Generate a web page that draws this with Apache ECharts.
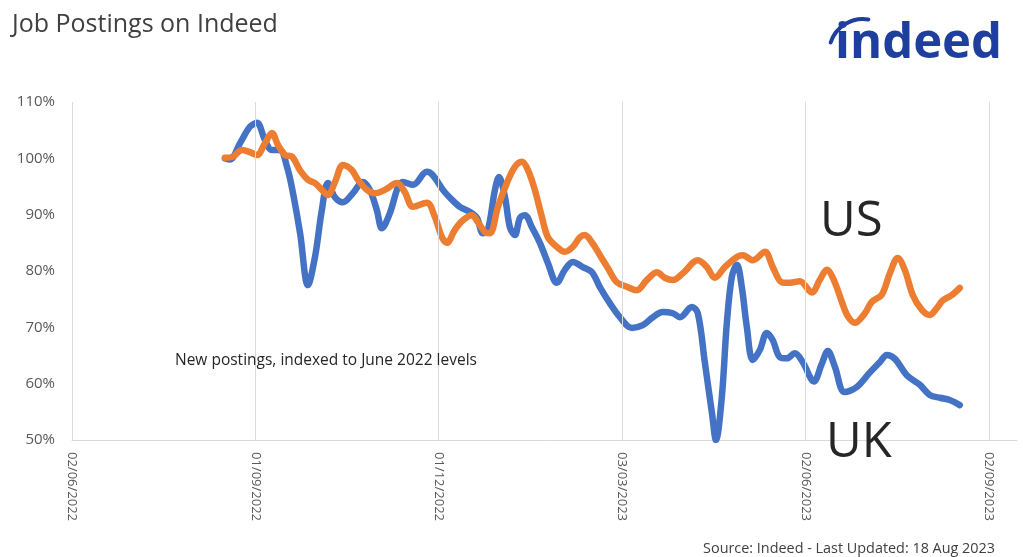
<!DOCTYPE html>
<html>
<head>
<meta charset="utf-8">
<script src="https://cdn.jsdelivr.net/npm/echarts@6/dist/echarts.min.js"></script>
<style>
  html, body { margin: 0; padding: 0; background: #ffffff; }
  #chart { width: 1023px; height: 557px; }
</style>
</head>
<body>
<div id="chart"></div>
<script>
// x values are days since 2 Jun 2022
const xTickDays = [0, 91, 182, 273, 364, 455];
const xTickLabels = ['02/06/2022', '01/09/2022', '01/12/2022', '03/03/2023', '02/06/2023', '02/09/2023'];
const yTicks = [50, 60, 70, 80, 90, 100, 110];

const ukDays = [75.9, 78.4, 83.4, 88.3, 91.8, 95.7, 99.2, 103.2, 106.7, 109.7, 113.2, 117.1, 120.6, 124.0, 127.0, 130.5,
  134.4, 139.4, 144.3, 147.8, 151.3, 153.8, 157.8, 161.8, 164.2, 169.2, 176.1, 179.1, 184.1, 187.6, 192.5, 197.5,
  201.0, 203.9, 206.4, 209.9, 211.9, 214.9, 217.3, 219.8, 222.3, 224.8, 228.2, 232.2, 236.2, 240.6, 244.6, 248.6,
  253.5, 258.0, 261.9, 266.9, 271.9, 277.9, 283.3, 288.3, 293.2, 298.2, 301.7, 307.6, 310.6, 314.1, 317.6, 319.6,
  322.5, 325.0, 327.5, 330.0, 332.4, 334.9, 337.9, 341.4, 344.8, 347.8, 351.3, 354.8, 358.7, 362.7, 368.2, 372.1,
  375.1, 378.6, 383.5, 389.5, 396.0, 400.9, 404.4, 408.4, 414.3, 420.8, 425.7, 430.7, 435.6, 440.6];
const ukValues = [100.0, 99.8, 102.7, 105.6, 106.3, 103.3, 101.5, 101.5, 98.5, 93.8, 86.7, 77.5, 82.5, 90.8, 95.6, 93.1,
  92.2, 93.8, 95.8, 94.4, 90.8, 87.6, 90.3, 94.9, 95.8, 95.3, 97.6, 97.0, 94.4, 93.0, 91.4, 90.5,
  89.4, 86.7, 87.3, 94.4, 96.7, 93.1, 87.8, 86.4, 89.4, 89.9, 87.8, 85.0, 81.4, 77.9, 80.2, 81.6,
  80.7, 79.8, 77.2, 74.3, 71.8, 69.9, 70.4, 71.8, 72.7, 72.5, 71.8, 73.6, 72.5, 63.7, 54.8, 50.0,
  57.6, 70.8, 79.0, 81.1, 77.2, 70.1, 64.2, 66.0, 69.0, 67.7, 64.7, 64.5, 65.4, 63.8, 60.4, 63.5,
  65.8, 63.0, 58.5, 59.4, 62.0, 63.8, 65.1, 64.4, 61.5, 59.8, 58.0, 57.5, 57.1, 56.2];

const usDays = [75.9, 79.9, 84.4, 88.3, 91.8, 95.8, 99.2, 102.2, 105.7, 109.2, 113.1, 117.1, 120.6, 124.0, 127.0, 130.5,
  134.5, 138.9, 141.9, 146.4, 150.3, 155.3, 161.3, 165.2, 169.2, 176.1, 180.1, 183.6, 186.1, 190.0, 194.0, 198.5,
  201.4, 204.9, 207.4, 211.4, 215.8, 219.8, 223.3, 226.3, 229.7, 233.2, 236.2, 240.6, 244.6, 248.6, 252.1, 254.5,
  258.0, 262.0, 266.0, 270.4, 275.4, 280.3, 285.3, 290.3, 294.2, 298.2, 303.2, 310.6, 315.1, 319.0, 324.0, 330.0,
  332.9, 337.9, 343.9, 347.8, 352.3, 356.3, 361.2, 367.2, 371.1, 374.6, 378.1, 382.1, 385.0, 388.5, 393.5, 396.9,
  401.9, 405.9, 409.8, 413.3, 417.3, 421.8, 425.7, 429.2, 432.2, 436.6, 440.6];
const usValues = [100.1, 100.3, 101.5, 101.1, 100.6, 102.7, 104.5, 102.4, 100.6, 100.3, 97.9, 96.2, 95.6, 94.4, 93.5, 95.8,
  98.8, 97.9, 96.2, 94.4, 93.8, 94.4, 95.6, 94.0, 91.4, 92.1, 89.6, 86.0, 85.0, 87.3, 89.0, 89.9,
  88.7, 86.9, 86.7, 91.4, 95.6, 98.5, 99.4, 97.9, 94.4, 89.6, 86.0, 84.3, 83.4, 84.3, 86.0, 86.4,
  85.1, 82.8, 80.5, 78.0, 77.2, 76.6, 78.4, 79.8, 78.8, 78.4, 79.6, 81.9, 80.7, 78.8, 80.7, 82.5,
  82.8, 81.9, 83.4, 80.7, 78.0, 77.9, 78.2, 76.2, 78.4, 80.2, 78.4, 74.5, 72.0, 70.8, 72.5, 74.5,
  75.8, 79.6, 82.3, 80.2, 75.7, 73.1, 72.2, 73.4, 74.8, 75.7, 77.0];

const chart = echarts.init(document.getElementById('chart'), null, { renderer: 'canvas' });
const FONT = '"Open Sans", "Noto Sans", sans-serif';

chart.setOption({
  animation: false,
  backgroundColor: '#ffffff',
  grid: { left: 72, right: 6, top: 102, bottom: 117 },
  xAxis: {
    type: 'value',
    min: 0,
    max: 469,
    interval: 91,
    splitLine: { show: false },
    axisTick: { show: false },
    axisLine: { show: true, lineStyle: { color: '#d9d9d9', width: 1 } },
    axisLabel: {
      rotate: -90,
      margin: 12,
      color: '#595959',
      fontFamily: FONT,
      fontSize: 13,
      showMaxLabel: false,
      formatter: function (v) {
        const i = xTickDays.indexOf(v);
        return i >= 0 ? xTickLabels[i] : '';
      }
    }
  },
  yAxis: {
    type: 'value',
    min: yTicks[0],
    max: yTicks[yTicks.length - 1],
    interval: 10,
    splitLine: { show: false },
    axisLine: { show: false },
    axisTick: { show: false },
    axisLabel: {
      margin: 17,
      color: '#595959',
      fontFamily: FONT,
      fontSize: 15,
      formatter: '{value}%'
    }
  },
  series: [
    {
      name: 'grid',
      type: 'line',
      data: [],
      z: 1,
      silent: true,
      markLine: {
        silent: true,
        symbol: 'none',
        label: { show: false },
        lineStyle: { color: '#d9d9d9', type: 'solid', width: 1 },
        data: xTickDays.map(d => ({ xAxis: d }))
      }
    },
    {
      name: 'UK',
      type: 'line',
      z: 3,
      smooth: 0.35,
      showSymbol: false,
      lineStyle: { color: '#4472C4', width: 6.5, cap: 'round', join: 'round' },
      itemStyle: { color: '#4472C4' },
      data: ukDays.map((d, i) => [d, ukValues[i]])
    },
    {
      name: 'US',
      type: 'line',
      z: 4,
      smooth: 0.35,
      showSymbol: false,
      lineStyle: { color: '#ED7D31', width: 6.5, cap: 'round', join: 'round' },
      itemStyle: { color: '#ED7D31' },
      data: usDays.map((d, i) => [d, usValues[i]])
    }
  ],
  graphic: [
    { type: 'text', x: 12, y: 25, style: { text: 'Job Postings on Indeed', fill: '#404040', font: '25px ' + FONT, textVerticalAlign: 'middle' } },
    { type: 'text', x: 835, y: 44, style: { text: 'indeed', fill: '#1f3f9e', font: 'bold 49px ' + FONT, textVerticalAlign: 'middle' } },
    { type: 'arc', shape: { cx: 863, cy: 53, r: 34, startAngle: Math.PI * 1.1, endAngle: Math.PI * 1.55, clockwise: true },
      style: { stroke: '#1f3f9e', lineWidth: 4, fill: null, lineCap: 'round' } },
    { type: 'text', x: 820, y: 222, z: 10, style: { text: 'US', fill: '#262626', font: '49px ' + FONT, textVerticalAlign: 'middle' } },
    { type: 'text', x: 826, y: 443, z: 10, style: { text: 'UK', fill: '#262626', font: '49px ' + FONT, textVerticalAlign: 'middle' } },
    { type: 'text', x: 175, y: 361, z: 10, style: { text: 'New postings, indexed to June 2022 levels', fill: '#262626', font: '15.5px ' + FONT, textVerticalAlign: 'middle' } },
    { type: 'text', x: 995, y: 549, z: 10, style: { text: 'Source: Indeed - Last Updated: 18 Aug 2023', fill: '#404040', font: '14.4px ' + FONT, textAlign: 'right', textVerticalAlign: 'middle' } }
  ]
});
</script>
</body>
</html>
